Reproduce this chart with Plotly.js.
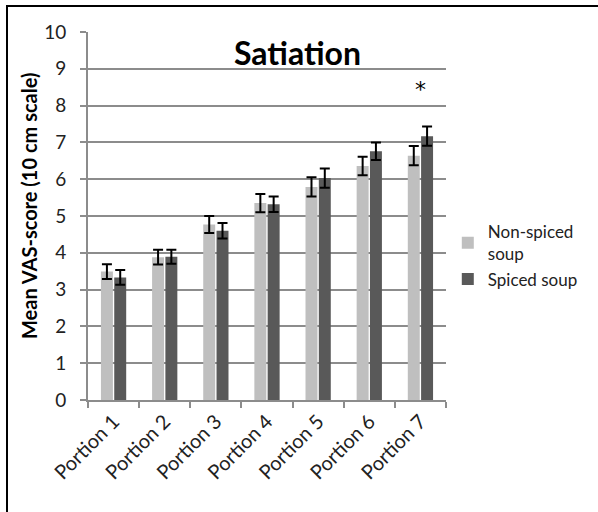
<!DOCTYPE html>
<html><head><meta charset="utf-8">
<script src="https://cdn.plot.ly/plotly-3.0.1.min.js"></script>
<style>
html,body{margin:0;padding:0;background:#fff;overflow:hidden;}
#wrap{position:relative;width:598px;height:512px;}
#chart{width:598px;height:512px;}
#frame{position:absolute;left:6px;top:5px;width:700px;height:700px;border-left:2px solid #000;border-top:2px solid #000;pointer-events:none;}
</style></head>
<body><div id="wrap"><div id="chart"></div><div id="frame"></div></div>
<script>
const categories = ["Portion 1","Portion 2","Portion 3","Portion 4","Portion 5","Portion 6","Portion 7"];
const nonSpiced = [3.49, 3.88, 4.77, 5.35, 5.79, 6.36, 6.64];
const nonSpicedErr = [0.20, 0.20, 0.23, 0.25, 0.26, 0.25, 0.26];
const spiced = [3.33, 3.89, 4.60, 5.32, 6.03, 6.76, 7.17];
const spicedErr = [0.20, 0.19, 0.21, 0.21, 0.26, 0.24, 0.26];
const seriesNames = ["Non-spiced<br>soup", "Spiced soup"];
const yTicks = [0,1,2,3,4,5,6,7,8,9,10];

const font = "Lato, 'Noto Sans', sans-serif";
const traces = [
  {type:'bar', name:seriesNames[0], x:categories, y:nonSpiced,
   marker:{color:'#bfbfbf'},
   error_y:{type:'data', array:nonSpicedErr, visible:true, color:'#000', thickness:2, width:5}},
  {type:'bar', name:seriesNames[1], x:categories, y:spiced,
   marker:{color:'#595959'},
   error_y:{type:'data', array:spicedErr, visible:true, color:'#000', thickness:2, width:5}}
];
const layout = {
  width:598, height:512,
  margin:{l:88, r:152, t:32, b:112},
  paper_bgcolor:'#fff', plot_bgcolor:'#fff',
  font:{family:font, color:'#1a1a1a'},
  barmode:'group', bargap:0.48, bargroupgap:0.1,
  showlegend:true,
  legend:{x:1.005, xanchor:'left', y:0.505, yanchor:'top', font:{size:17, family:font, color:'#222'},
          tracegroupgap:21, itemwidth:30},
  xaxis:{type:'category', tickson:'boundaries', ticks:'outside', ticklen:6, tickcolor:'#8c8c8c', tickwidth:2,
         showline:true, linecolor:'#8c8c8c', linewidth:2, tickangle:-45,
         tickfont:{size:20, family:font, color:'#222'}, showgrid:false, zeroline:false},
  yaxis:{range:[0,10], tickvals:yTicks, ticks:'outside', ticklen:6, tickcolor:'#8c8c8c', tickwidth:2,
         showline:true, linecolor:'#8c8c8c', linewidth:2, showgrid:true, gridcolor:'#8c8c8c', gridwidth:2,
         zeroline:false, ticklabelstandoff:10, tickfont:{size:19, family:font, color:'#222'}},
  annotations:[
    {text:'Satiation', xref:'paper', yref:'paper', x:0.585, y:0.945, xanchor:'center', yanchor:'middle',
     showarrow:false, font:{size:32, family:font, color:'#000', weight:700}},
    {text:'*', xref:'x', yref:'y', x:'Portion 7', y:8.45, xanchor:'center', yanchor:'middle',
     showarrow:false, font:{size:22, family:"'DejaVu Sans', sans-serif", color:'#000'}},
    {text:'<b>Mean VAS-score (10 cm scale)</b>', xref:'paper', yref:'paper', x:-0.165, y:0.527,
     xanchor:'center', yanchor:'middle', textangle:-90, showarrow:false,
     font:{size:20, family:font, color:'#000'}}
  ]
};
Plotly.newPlot('chart', traces, layout, {displayModeBar:false, staticPlot:true});
</script></body></html>
